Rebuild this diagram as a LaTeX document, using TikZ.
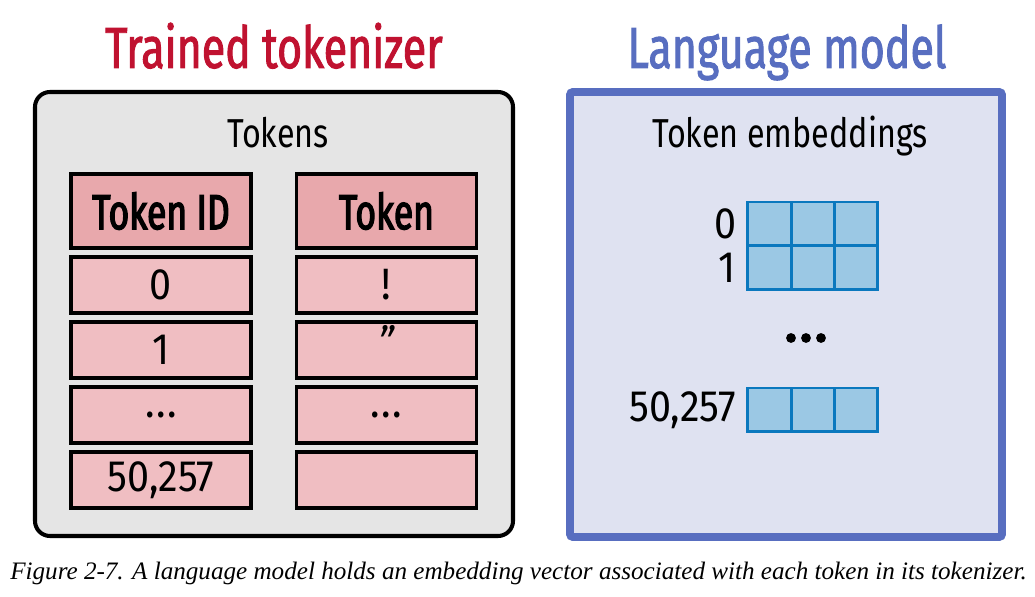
\documentclass[tikz,border=0pt]{standalone}
\usepackage{fontspec}
\setmainfont{Liberation Serif}
\newfontfamily\diafont[FakeStretch=0.8]{Fira Sans}
\newfontfamily\titlefont[FakeStretch=0.74,FakeBold=1.6]{Fira Sans}
\newfontfamily\headfont[FakeStretch=0.72,FakeBold=2.6]{Fira Sans}
\newfontfamily\numfont[FakeStretch=0.9]{Fira Sans}
\usetikzlibrary{positioning}

\definecolor{tokred}{RGB}{192,18,48}
\definecolor{lmblue}{RGB}{88,110,192}
\definecolor{boxgray}{RGB}{229,229,229}
\definecolor{headpink}{RGB}{232,168,172}
\definecolor{rowpink}{RGB}{240,190,194}
\definecolor{lmfill}{RGB}{223,226,241}
\definecolor{cellfill}{RGB}{155,200,228}
\definecolor{celledge}{RGB}{10,120,190}

\begin{document}
\begin{tikzpicture}[x=0.02cm,y=-0.02cm]
	\tikzstyle{title}=[anchor=base,inner sep=0pt,font=\titlefont\fontsize{33}{36}\selectfont]
	\tikzstyle{sub}=[anchor=base,inner sep=0pt,font=\diafont\fontsize{23}{26}\selectfont]
	\tikzstyle{cell}=[draw=black,line width=2.2pt,fill=rowpink,minimum width=3.6cm,minimum height=1.12cm,inner sep=0pt,font=\numfont\fontsize{25}{26}\selectfont]
	\tikzstyle{head}=[cell,fill=headpink,minimum height=1.48cm,font=\headfont\fontsize{28}{30}\selectfont]
	\tikzstyle{emb}=[draw=celledge,fill=cellfill,line width=1.7pt,minimum width=0.867cm,minimum height=0.88cm,inner sep=0pt]
	\tikzstyle{num}=[inner sep=0pt,font=\numfont\fontsize{25}{26}\selectfont]
	\useasboundingbox (0,0) rectangle (1035,597);
	% the two panels
	\draw[black,line width=2.3pt,fill=boxgray,rounded corners=0.3cm] (35,92) rectangle (513,536);
	\draw[lmblue,line width=4.5pt,fill=lmfill,rounded corners=0.06cm] (570,92) rectangle (1002,537);
	\node[title,text=tokred](t-tok) at (274,68){Trained tokenizer};
	\node[title,text=lmblue](t-lm) at (787,68){Language model};
	\node[sub](s-tok) at (278,148){Tokens};
	\node[sub](s-lm) at (790,148){Token embeddings};
	% token table
	\node[head](h-id) at (161,211){Token ID};
	\node[head](h-tok) at (386.5,211){Token};
	\node[cell](id-1) at (161,285){0};
	\node[cell](id-2) at (161,350){1};
	\node[cell](id-3) at (161,415){.\kern1pt.\kern1pt.};
	\node[cell](id-4) at (161,480){50,257};
	\node[cell](tk-1) at (386.5,285){!};
	\node[cell](tk-2) at (386.5,350){\raisebox{0.35em}{\itshape\char"201D}};
	\node[cell](tk-3) at (386.5,415){.\kern1pt.\kern1pt.};
	\node[cell](tk-4) at (386.5,480){};
	% embedding matrix
	\foreach \c in {1,2,3}{
	\node[emb](e-0-\c) at (726.3+\c*43.3,224){};
	\node[emb](e-1-\c) at (726.3+\c*43.3,268){};
	\node[emb](e-n-\c) at (726.3+\c*43.3,410){};
	}
	\node[num,left=0.2cm of e-0-1](n-0){0};
	\node[num,left=0.2cm of e-1-1](n-1){1};
	\node[num,left=0.2cm of e-n-1](n-n){50,257};
	\foreach \x in {-15,0,15}
	\fill (806+\x,338) circle (2.8pt);
	% caption
	\node[anchor=base,inner sep=0pt,font=\itshape\fontsize{14.3}{16}\selectfont](cap) at (518.5,580){Figure 2-7. A language model holds an embedding vector associated with each token in its tokenizer.};
\end{tikzpicture}
\end{document}
